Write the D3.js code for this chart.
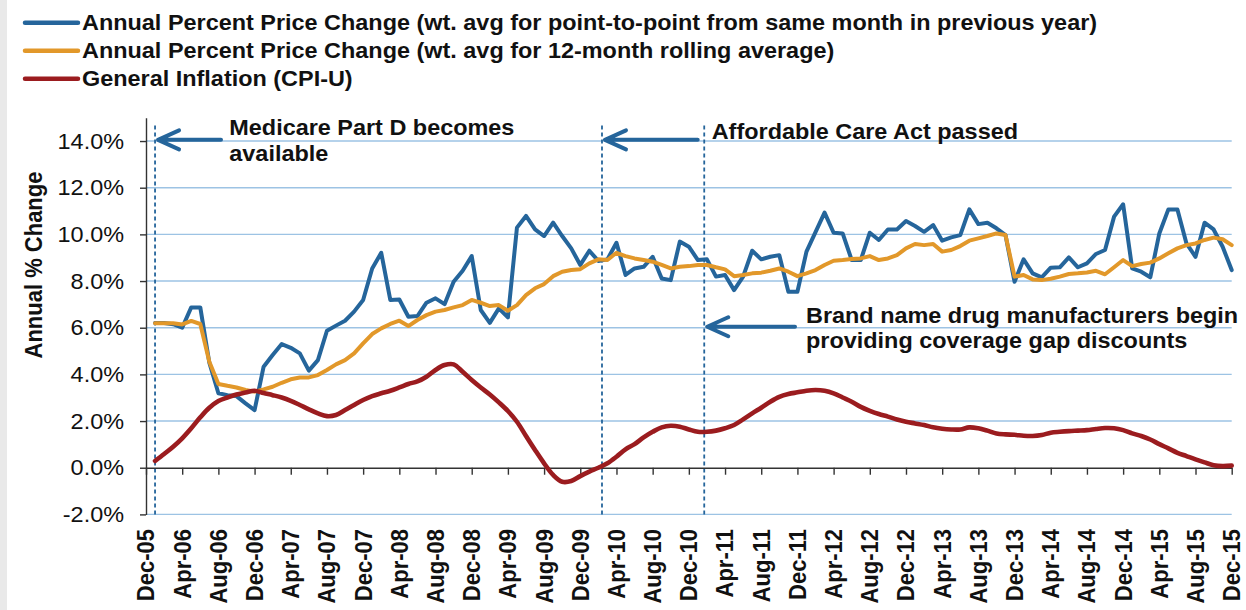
<!DOCTYPE html>
<html>
<head>
<meta charset="utf-8">
<script src="https://cdn.jsdelivr.net/npm/d3@7"></script>
<style>
  body { margin: 0; background: #fff; }
  svg { display: block; font-family: "Liberation Sans", Arial, sans-serif; }
</style>
</head>
<body>
<div id="viz"></div>
<script>
// ---- data (monthly, Jan-06 .. Dec-15) ----
var xTickLabels = ['Dec-05','Apr-06','Aug-06','Dec-06','Apr-07','Aug-07','Dec-07','Apr-08','Aug-08','Dec-08',
  'Apr-09','Aug-09','Dec-09','Apr-10','Aug-10','Dec-10','Apr-11','Aug-11','Dec-11','Apr-12','Aug-12','Dec-12',
  'Apr-13','Aug-13','Dec-13','Apr-14','Aug-14','Dec-14','Apr-15','Aug-15','Dec-15'];
var yTicks = [-2, 0, 2, 4, 6, 8, 10, 12, 14];

var pointToPoint = [6.2,6.2,6.15,6.0,6.87,6.87,4.5,3.19,3.11,3.07,2.76,2.47,
  4.33,4.83,5.3,5.14,4.9,4.16,4.61,5.87,6.09,6.3,6.69,7.19,
  8.54,9.21,7.19,7.21,6.47,6.5,7.07,7.26,7.01,7.97,8.44,9.07,
  6.76,6.21,6.83,6.44,10.29,10.79,10.21,9.93,10.5,9.93,9.4,8.69,
  9.3,8.86,8.93,9.64,8.26,8.54,8.61,9.04,8.11,8.04,9.69,9.47,
  8.9,8.93,8.19,8.26,7.61,8.19,9.3,8.93,9.04,9.11,7.54,7.54,
  9.26,10.1,10.93,10.07,10.04,8.9,8.9,10.07,9.76,10.21,10.21,10.57,
  10.36,10.11,10.4,9.73,9.87,9.97,11.07,10.44,10.5,10.26,9.97,7.97,
  8.93,8.33,8.16,8.57,8.59,9.01,8.59,8.76,9.16,9.33,10.76,11.29,
  8.54,8.4,8.16,10.04,11.07,11.07,9.61,9.04,10.5,10.21,9.47,8.47];

var rollingAvg = [6.19,6.19,6.19,6.14,6.29,6.16,4.54,3.59,3.51,3.44,3.33,3.26,
  3.36,3.47,3.64,3.79,3.87,3.87,3.97,4.19,4.43,4.61,4.9,5.33,
  5.73,5.97,6.16,6.3,6.07,6.33,6.54,6.69,6.76,6.87,6.97,7.19,
  7.07,6.93,6.97,6.73,6.97,7.4,7.69,7.87,8.21,8.4,8.47,8.51,
  8.76,8.93,8.9,9.21,9.07,8.97,8.9,8.83,8.69,8.54,8.61,8.64,
  8.69,8.69,8.59,8.5,8.21,8.26,8.33,8.36,8.44,8.54,8.4,8.21,
  8.33,8.47,8.69,8.87,8.9,8.94,8.97,9.07,8.9,8.97,9.11,9.4,
  9.59,9.54,9.59,9.26,9.33,9.5,9.73,9.83,9.93,10.04,9.97,8.19,
  8.26,8.07,8.04,8.1,8.19,8.3,8.33,8.37,8.44,8.29,8.59,8.9,
  8.64,8.73,8.79,8.97,9.19,9.4,9.54,9.61,9.76,9.86,9.79,9.54];

var cpiU = [0.29,0.59,0.9,1.26,1.69,2.16,2.57,2.86,3.01,3.14,3.22,3.3,
  3.2,3.11,3.01,2.87,2.69,2.5,2.33,2.21,2.26,2.47,2.69,2.9,
  3.07,3.19,3.3,3.44,3.59,3.7,3.9,4.19,4.4,4.43,4.11,3.76,
  3.44,3.14,2.8,2.43,1.97,1.36,0.76,0.19,-0.31,-0.6,-0.57,-0.36,
  -0.17,0.0,0.19,0.47,0.79,1.01,1.3,1.54,1.73,1.8,1.76,1.64,
  1.54,1.54,1.59,1.69,1.83,2.07,2.33,2.57,2.83,3.04,3.16,3.23,
  3.3,3.33,3.3,3.19,3.01,2.83,2.61,2.44,2.3,2.19,2.07,1.97,
  1.9,1.83,1.73,1.67,1.64,1.64,1.73,1.69,1.59,1.47,1.43,1.41,
  1.37,1.36,1.4,1.5,1.54,1.57,1.59,1.61,1.66,1.7,1.69,1.61,
  1.47,1.36,1.21,1.01,0.83,0.64,0.5,0.36,0.23,0.11,0.07,0.09];

var seriesNames = ['Annual Percent Price Change (wt. avg for point-to-point from same month in previous year)',
  'Annual Percent Price Change (wt. avg for 12-month rolling average)',
  'General Inflation (CPI-U)'];

// events: month index counted from Dec-05
var eventMonths = [1, 50.4, 61.7];
var eventTexts = [['Medicare Part D becomes', 'available'],
  ['Affordable Care Act passed'],
  ['Brand name drug manufacturers begin', 'providing coverage gap discounts']];

// ---- drawing ----
var W = 1246, H = 610,
    sx = 1.065,
    blue = '#25659b', orange = '#e2982a', red = '#9b1c1f', grid = '#9dc3e4', ink = '#111';

var x = d3.scaleLinear().domain([0, 120]).range([146, 1231.7]);
var y = d3.scaleLinear().domain([-2, 15]).range([514.4, 117.7]);

var svg = d3.select('#viz').append('svg')
    .attr('width', W)
    .attr('height', H);

svg.append('rect').attr('width', 7).attr('height', H).attr('fill', '#e9e9e9');

// gridlines
svg.append('g').selectAll('line')
  .data(yTicks.filter(function(d) { return d !== 0; }))
  .enter().append('line')
    .attr('x1', x(0)).attr('x2', x(120))
    .attr('y1', function(d) { return y(d); })
    .attr('y2', function(d) { return y(d); })
    .attr('stroke', grid)
    .attr('stroke-width', 1.4);

// event dashed lines
svg.append('g').selectAll('line').data(eventMonths)
  .enter().append('line')
    .attr('x1', function(d) { return x(d); })
    .attr('x2', function(d) { return x(d); })
    .attr('y1', y(-2)).attr('y2', y(14.75))
    .attr('stroke', blue)
    .attr('stroke-width', 1.8)
    .attr('stroke-dasharray', '4,3');

// y axis
var yAxis = d3.axisLeft(y).tickValues(yTicks).tickSize(6).tickSizeOuter(0)
    .tickFormat(function(d) { return d.toFixed(1) + '%'; });
var gy = svg.append('g').attr('transform', 'translate(' + x(0) + ',0)').call(yAxis);
gy.select('.domain').attr('stroke', '#333').attr('stroke-width', 1.4);
gy.selectAll('.tick line').attr('stroke', '#333').attr('stroke-width', 1.4);
gy.selectAll('.tick text')
    .attr('x', 0)
    .attr('transform', 'translate(-22,0) scale(' + sx + ',1)')
    .attr('font-size', 22)
    .attr('font-family', '"Liberation Sans", Arial, sans-serif')
    .attr('fill', ink);

// x axis on the zero line
var xAxis = d3.axisBottom(x).tickValues(d3.range(0, 121, 4)).tickSize(7).tickSizeOuter(0).tickFormat('');
var gx = svg.append('g').attr('transform', 'translate(0,' + y(0) + ')').call(xAxis);
gx.select('.domain').attr('stroke', '#333').attr('stroke-width', 1.4);
gx.selectAll('.tick line').attr('stroke', '#333').attr('stroke-width', 1.4);

svg.append('g').selectAll('text').data(xTickLabels)
  .enter().append('text')
    .attr('transform', function(d, i) {
      return 'translate(' + x(i * 4) + ',529) scale(' + sx + ',1) rotate(-90)';
    })
    .attr('dy', '0.36em')
    .attr('text-anchor', 'end')
    .attr('font-size', 22)
    .attr('font-weight', 'bold')
    .attr('fill', ink)
    .text(function(d) { return d; });

// y title
svg.append('text')
    .attr('transform', 'translate(41.5,265) scale(' + sx + ',1) rotate(-90)')
    .attr('text-anchor', 'middle')
    .attr('font-size', 22)
    .attr('font-weight', 'bold')
    .attr('fill', ink)
    .text('Annual % Change');

// series
function monthLine(curve) {
  return d3.line()
    .x(function(d, i) { return x(i + 1); })
    .y(function(d) { return y(d); })
    .curve(curve);
}
var seriesList = [
  {values: pointToPoint, color: blue, curve: d3.curveLinear, w: 4},
  {values: rollingAvg, color: orange, curve: d3.curveLinear, w: 4},
  {values: cpiU, color: red, curve: d3.curveCatmullRom, w: 4.6}
];
svg.append('g').selectAll('path').data(seriesList)
  .enter().append('path')
    .attr('d', function(s) { return monthLine(s.curve)(s.values); })
    .attr('fill', 'none')
    .attr('stroke', function(s) { return s.color; })
    .attr('stroke-width', function(s) { return s.w; })
    .attr('stroke-linejoin', 'round')
    .attr('stroke-linecap', 'round');

// arrows + annotation text
var arrowLevel = [14.05, 14.05, 6.04],
    arrowTail = [221, 697.7, 795],
    textPos = [[229.3, 135, 26], [711.7, 139, 26], [806, 322.7, 25.5]];

eventMonths.forEach(function(m, k) {
  var tx = x(m) + 3, ty = y(arrowLevel[k]);
  svg.append('path')
    .attr('d', 'M' + arrowTail[k] + ',' + ty + 'L' + tx + ',' + ty +
               'M' + (tx + 21) + ',' + (ty - 9.5) + 'L' + tx + ',' + ty + 'L' + (tx + 21) + ',' + (ty + 9.5))
    .attr('fill', 'none')
    .attr('stroke', blue)
    .attr('stroke-width', 4)
    .attr('stroke-linecap', 'round')
    .attr('stroke-linejoin', 'round');

  eventTexts[k].forEach(function(t, j) {
    svg.append('text')
      .attr('transform', 'translate(' + textPos[k][0] + ',' + (textPos[k][1] + j * textPos[k][2]) + ') scale(' + sx + ',1)')
      .attr('font-size', 22)
      .attr('font-weight', 'bold')
      .attr('fill', ink)
      .text(t);
  });
});

// legend
var legend = svg.append('g').selectAll('g').data(seriesNames)
  .enter().append('g')
    .attr('transform', function(d, i) { return 'translate(0,' + (22.7 + i * 28) + ')'; });
legend.append('line')
    .attr('x1', 25).attr('x2', 78)
    .attr('stroke', function(d, i) { return seriesList[i].color; })
    .attr('stroke-width', 4.5)
    .attr('stroke-linecap', 'round');
legend.append('text')
    .attr('transform', 'translate(82,7.6) scale(' + sx + ',1)')
    .attr('font-size', 22)
    .attr('font-weight', 'bold')
    .attr('fill', ink)
    .text(function(d) { return d; });
</script>
</body>
</html>
